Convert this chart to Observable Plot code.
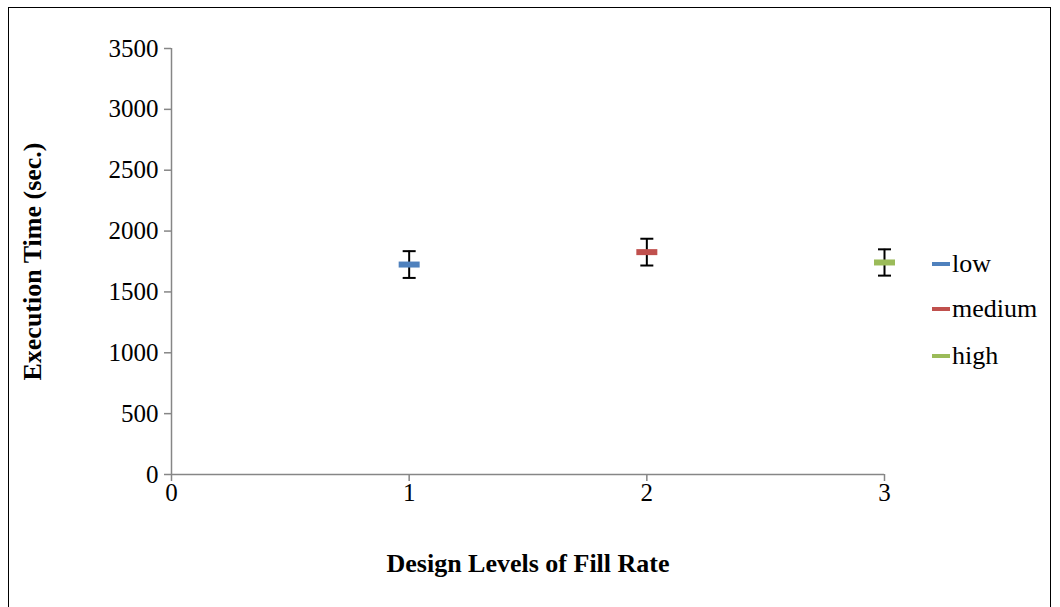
<!DOCTYPE html>
<html>
<head>
<meta charset="utf-8">
<script src="https://cdn.jsdelivr.net/npm/d3@7"></script>
<script src="https://cdn.jsdelivr.net/npm/@observablehq/plot@0.6"></script>
<style>
  html, body { margin: 0; padding: 0; background: #fff; overflow: hidden; }
  #wrap { position: relative; width: 1060px; height: 607px; }
  #border { position: absolute; left: 8px; top: 7px; width: 1043px; height: 640px; border: 1px solid #000; box-sizing: border-box; pointer-events: none; }
  #chart { position: absolute; left: 0; top: 0; }
  #legend { position: absolute; left: 0; top: 0; pointer-events: none; }
</style>
</head>
<body>
<div id="wrap">
  <div id="chart"></div>
  <svg id="legend" width="1060" height="607"></svg>
  <div id="border"></div>
</div>
<script>
// ---- data ----
const levels = [1, 2, 3];
const series = ["low", "medium", "high"];
const means = [1725, 1827, 1742];
const errors = [110, 110, 108];
const yTicks = [0, 500, 1000, 1500, 2000, 2500, 3000, 3500];
const xTicks = [0, 1, 2, 3];
const xLabel = "Design Levels of Fill Rate";
const yLabel = "Execution Time (sec.)";
// ---- styles ----
const palette = ["#4F81BD", "#C0504D", "#9BBB59"];

const data = levels.map((x, i) => ({x, series: series[i], mean: means[i], lo: means[i] - errors[i], hi: means[i] + errors[i]}));

const dash = {draw(ctx) { ctx.rect(-10.5, -3, 21, 6); }};
const cap = {draw(ctx) { ctx.moveTo(-6.5, 0); ctx.lineTo(6.5, 0); }};

const font = "Liberation Serif, Times New Roman, serif";
const axisColor = "#868686";
const fmt = d => String(d);

const chart = Plot.plot({
  width: 1060,
  height: 607,
  marginLeft: 171,
  marginRight: 176,
  marginTop: 48,
  marginBottom: 133,
  style: {fontFamily: font, fontSize: "25px", background: "transparent", color: "#000"},
  x: {domain: [0, 3], axis: null},
  y: {domain: [0, 3500], axis: null},
  color: {domain: series, range: palette},
  marks: [
    Plot.ruleY([0], {x1: 0, x2: 3, stroke: axisColor, strokeWidth: 1.5}),
    Plot.ruleX([0], {y1: 0, y2: 3500, stroke: axisColor, strokeWidth: 1.5}),
    Plot.axisY(yTicks, {anchor: "left", tickSize: 7, tickPadding: 6, tickFormat: fmt, stroke: axisColor, strokeWidth: 1.5, fill: "#000", fontSize: 25, label: null}),
    Plot.axisX(xTicks, {anchor: "bottom", tickSize: 7, tickPadding: 2, tickFormat: fmt, stroke: axisColor, strokeWidth: 1.5, fill: "#000", fontSize: 25, label: null}),
    Plot.ruleX(data, {x: "x", y1: "lo", y2: "hi", stroke: "#000", strokeWidth: 2}),
    Plot.dot(data, {x: "x", y: "lo", symbol: cap, stroke: "#000", strokeWidth: 2, fill: "none"}),
    Plot.dot(data, {x: "x", y: "hi", symbol: cap, stroke: "#000", strokeWidth: 2, fill: "none"}),
    Plot.dot(data, {x: "x", y: "mean", symbol: dash, fill: "series", stroke: "none"}),
    Plot.text([xLabel], {frameAnchor: "bottom", dy: 89, fontWeight: "bold", fontSize: 26, fill: "#000", textAnchor: "middle", lineAnchor: "middle"}),
    Plot.text([yLabel], {frameAnchor: "left", dx: -139, rotate: -90, fontWeight: "bold", fontSize: 26, fill: "#000", textAnchor: "middle", lineAnchor: "middle"})
  ]
});
document.getElementById("chart").appendChild(chart);

// legend (drawn in SVG with the same serif font)
const legendY = [264, 309, 356];
const lg = d3.select("#legend").append("g")
  .attr("font-family", font).attr("font-size", 26);
const items = lg.selectAll("g").data(series).join("g")
  .attr("transform", (d, i) => `translate(932,${legendY[i]})`);
items.append("rect").attr("x", 0).attr("y", -2).attr("width", 18).attr("height", 4)
  .attr("fill", (d, i) => palette[i]);
items.append("text").attr("x", 20).attr("y", 0).attr("dy", "0.32em").attr("fill", "#000").text(d => d);
</script>
</body>
</html>
